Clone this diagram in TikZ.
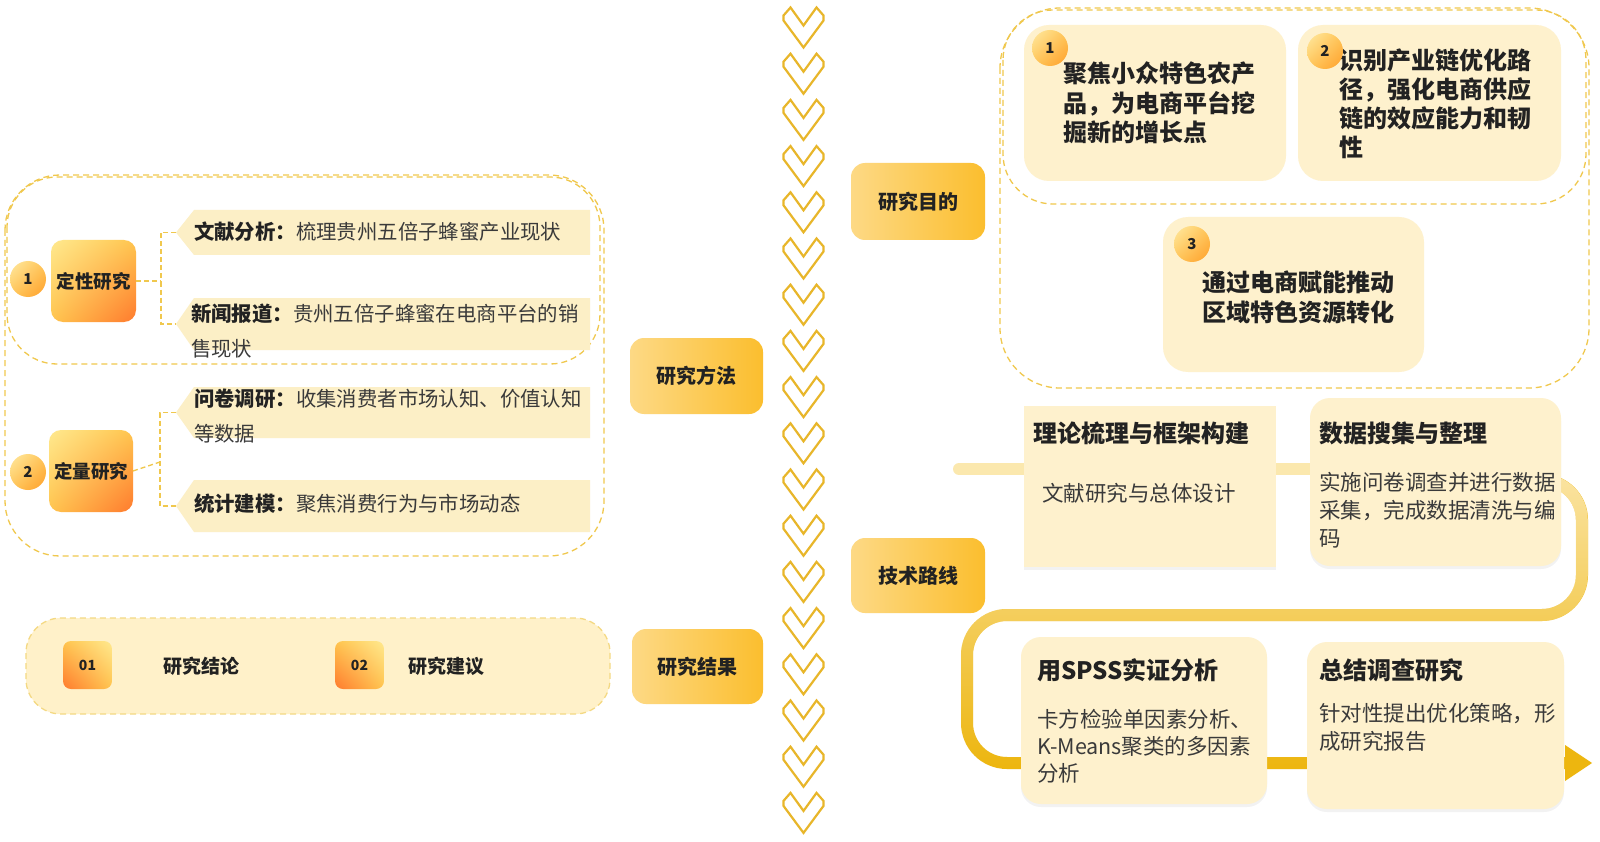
\documentclass[tikz,border=0pt]{standalone}
\usepackage{fontspec}
\setmainfont{Noto Sans CJK SC}
\usetikzlibrary{shadings,shadows,fadings}
\definecolor{gold}{HTML}{EDB60F}
\definecolor{palegold}{HTML}{FBE4A2}
\definecolor{lightband}{HTML}{FBE8AE}
\definecolor{chevc}{HTML}{E8B62A}
\definecolor{dashc}{HTML}{F0C84E}
\definecolor{cream}{HTML}{FEF1CD}
\definecolor{bandc}{HTML}{FCEFC6}
\definecolor{boxfill}{HTML}{FFF1C9}
\definecolor{txt}{HTML}{222222}
\definecolor{txtr}{HTML}{3A3A3A}
\definecolor{labA}{HTML}{FDD985}
\definecolor{labB}{HTML}{FBBE2E}
\definecolor{orA}{HTML}{FFE98F}
\definecolor{orB}{HTML}{FFC54E}
\definecolor{orC}{HTML}{FF7A2E}
\definecolor{ciA}{HTML}{FFEBA3}
\definecolor{ciB}{HTML}{FFC557}
\definecolor{ciC}{HTML}{FF9F2A}
\newcommand\fsz[2]{\fontsize{#1pt}{#2pt}\selectfont}
\tikzfading[name=fadetop, top color=transparent!0, bottom color=transparent!100]
\begin{document}
\begin{tikzpicture}[x=1pt,y=-1pt,
  every node/.style={inner sep=0pt, outer sep=0pt},
  dashbox/.style={draw=dashc, dash pattern=on 6pt off 4pt, line width=1.3pt},
  brk/.style={draw=dashc, dash pattern=on 5pt off 3pt, line width=1.3pt},
  chev/.style={draw=chevc, line width=2.2pt, line join=miter},
  orbox/.style={rounded corners=12pt, upper left=orA, upper right=orB, lower left=orB, lower right=orC},
  orsmall/.style={rounded corners=8pt, upper left=orB, upper right=orA, lower left=orC, lower right=orB},
  numc/.style={circle, minimum size=36pt, upper left=ciA, upper right=ciB, lower left=ciB, lower right=ciC, font=\fsz{15}{18}\bfseries, text=txt},
  lab/.style={rounded corners=14pt, minimum width=133pt, minimum height=76pt, left color=labA, right color=labB, font=\fsz{20}{24}\bfseries, text=txt},
  tx/.style={anchor=north west, align=left, text=txtr},
  card/.style={fill=cream, rounded corners=25pt},
  tbox/.style={fill=cream, drop shadow={opacity=0.10, shadow xshift=0pt, shadow yshift=-3pt}},
]
\useasboundingbox (0,0) rectangle (1600,842);
\fill[white] (0,0) rectangle (1600,842);

% ---------- chevrons ----------
\foreach \i in {0,...,17}{
  \pgfmathsetmacro\yy{7.5+46.2*\i}
  \draw[chev] (783.5,\yy+8) -- (783.5,\yy+13) -- (803.5,\yy+40) -- (823.5,\yy+13) -- (823.5,\yy+8) -- (816.5,\yy) -- (803.5,\yy+18) -- (790.5,\yy) -- cycle;
}

% ---------- left: research methods ----------
\draw[dashbox, rounded corners=55pt] (5,175) rectangle (604,556);
\draw[dashbox, rounded corners=50pt] (7,177) rectangle (600,364);

\fill[bandc] (194,210) -- (590,210) -- (590,255) -- (194,255) -- (176,232.5) -- cycle;
\coordinate (b1) at (176,232.5);
\fill[bandc] (194,298) -- (590,298) -- (590,350) -- (194,350) -- (176,324) -- cycle;
\coordinate (b2) at (176,324);
\fill[bandc] (194,387) -- (590,387) -- (590,438) -- (194,438) -- (176,412.5) -- cycle;
\coordinate (b3) at (176,412.5);
\fill[bandc] (194,480) -- (590,480) -- (590,532) -- (194,532) -- (176,506) -- cycle;
\coordinate (b4) at (176,506);

\node[tx, font=\fsz{20.4}{35}] (t1) at (194,221.5) {\textbf{\color{txt}文献分析：}梳理贵州五倍子蜂蜜产业现状};
\node[tx, font=\fsz{20.4}{35}] (t2) at (191,303.5) {\textbf{\color{txt}新闻报道：}贵州五倍子蜂蜜在电商平台的销\\售现状};
\node[tx, font=\fsz{20.4}{35}] (t3) at (194,388.5) {\textbf{\color{txt}问卷调研：}收集消费者市场认知、价值认知\\等数据};
\node[tx, font=\fsz{20.4}{35}] (t4) at (194,493.5) {\textbf{\color{txt}统计建模：}聚焦消费行为与市场动态};

\node[numc] (c1) at (28,279) {1};
\node[orbox, minimum width=85pt, minimum height=82pt, font=\fsz{18.5}{22}\bfseries, text=txt] (q1) at (93.5,281) {定性研究};
\node[numc] (c2) at (28,472) {2};
\node[orbox, minimum width=84pt, minimum height=82pt, font=\fsz{18.5}{22}\bfseries, text=txt] (q2) at (91,471) {定量研究};

\draw[brk] (q1.east) -- (161,281);
\draw[brk] (b1) -- (161,232.5) -- (161,324) -- (b2);
\draw[brk] (q2.east) -- (160,462);
\draw[brk] (b3) -- (160,412.5) -- (160,506) -- (b4);

% ---------- left: results ----------
\draw[dashbox, fill=boxfill, draw=dashc!70, rounded corners=35pt] (26,618) rectangle (610,714);
\node[orsmall, minimum width=49pt, minimum height=48pt, font=\fsz{14}{16}\bfseries, text=txt] (r1) at (87.5,665) {01};
\node[font=\fsz{19}{22}\bfseries, text=txt] (r1t) at (201,666) {研究结论};
\node[orsmall, minimum width=49pt, minimum height=48pt, font=\fsz{14}{16}\bfseries, text=txt] (r2) at (359.5,665) {02};
\node[font=\fsz{19}{22}\bfseries, text=txt] (r2t) at (446,666) {研究建议};

% ---------- middle labels ----------
\node[lab] (m1) at (696.5,376) {研究方法};
\node[lab, minimum width=131pt, minimum height=75pt] (m2) at (697.5,666.5) {研究结果};
\node[lab, minimum width=134pt, minimum height=77pt] (m3) at (918,201.5) {研究目的};
\node[lab, minimum width=134pt, minimum height=75pt] (m4) at (918,575.5) {技术路线};

% ---------- right top: objectives ----------
\draw[dashbox, rounded corners=60pt] (1000,8) rectangle (1589,388);
\draw[dashbox, rounded corners=50pt] (1003,10) rectangle (1586,204);

\fill[card] (1024,25) rectangle (1286,181);
\node[tx, text=txt, font=\fsz{24}{29.5}\bfseries] (o1) at (1063,62) {聚焦小众特色农产\\品，为电商平台挖\\掘新的增长点};
\node[numc] (n1) at (1050,48) {1};

\fill[card] (1298,25) rectangle (1561,181);
\node[tx, text=txt, font=\fsz{24}{29}\bfseries] (o2) at (1339,49) {识别产业链优化路\\径，强化电商供应\\链的效应能力和韧\\性};
\node[numc] (n2) at (1325,51) {2};

\fill[card] (1163,217) rectangle (1424,372);
\node[tx, text=txt, font=\fsz{24}{30}\bfseries] (o3) at (1202,271) {通过电商赋能推动\\区域特色资源转化};
\node[numc] (n3) at (1192,244) {3};

% ---------- right bottom: technical route ----------
\draw[lightband, line width=12pt, line cap=round] (959,469) -- (1311,469);
\coordinate (l1) at (1545,480);
\coordinate (l2) at (1566,763);
\draw[gold, line width=12pt, rounded corners=40pt] (l1) -- (1582,480) -- (1582,615) -- (967,615) -- (967,763) -- (l2);
\draw[palegold, line width=12pt, rounded corners=40pt, path fading=fadetop] (l1) -- (1582,480) -- (1582,615) -- (967,615) -- (967,763) -- (l2);
\fill[gold] (1565,745) -- (1592,763) -- (1565,781) -- cycle;

\fill[tbox] (1024,406) rectangle (1276,567);
\node[tx, text=txt, font=\fsz{24}{29}\bfseries] (a1) at (1033,422) {理论梳理与框架构建};
\node[tx, font=\fsz{21.5}{28}] (a2) at (1042,483) {文献研究与总体设计};

\fill[tbox, rounded corners=20pt] (1310,398) rectangle (1561,566);
\node[tx, text=txt, font=\fsz{24}{29}\bfseries] (b1t) at (1319,422) {数据搜集与整理};
\node[tx, font=\fsz{21.5}{28}] (b2t) at (1319,472) {实施问卷调查并进行数据\\采集，完成数据清洗与编\\码};

\fill[tbox, rounded corners=20pt] (1021,637) rectangle (1267,804);
\node[tx, text=txt, font=\fsz{24}{29}\bfseries] (c1t) at (1037,659) {用SPSS实证分析};
\node[tx, font=\fsz{21.5}{27}] (c2t) at (1037,709) {卡方检验单因素分析、\\K-Means聚类的多因素\\分析};

\fill[tbox, rounded corners=20pt] (1307,642) rectangle (1564,809);
\node[tx, text=txt, font=\fsz{24}{29}\bfseries] (d1t) at (1319,659) {总结调查研究};
\node[tx, font=\fsz{21.5}{28}] (d2t) at (1319,703) {针对性提出优化策略，形\\成研究报告};
\end{tikzpicture}
\end{document}
